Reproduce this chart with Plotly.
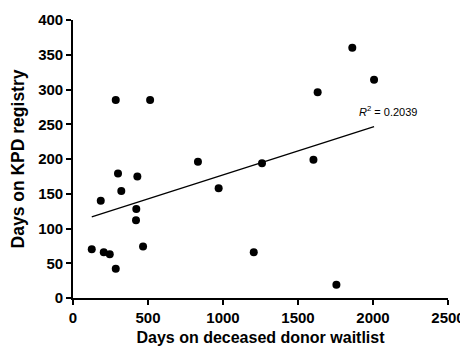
import numpy as np
import plotly.graph_objects as go

waitlist_days = [125, 185, 205, 245, 285, 285, 300, 322, 429, 422, 420, 467, 514,
                 833, 971, 1205, 1260, 1603, 1631, 1756, 1862, 2007]
kpd_days = [70, 140, 66, 63, 42, 285, 179, 154, 175, 128, 112, 74, 285,
            196, 158, 66, 194, 199, 296, 19, 360, 314]

x_ticks = [0, 500, 1000, 1500, 2000, 2500]
y_ticks = [0, 50, 100, 150, 200, 250, 300, 350, 400]
r2_text = "<i>R</i><sup>2</sup> = 0.2039"

slope, intercept = np.polyfit(waitlist_days, kpd_days, 1)
fit_x = [min(waitlist_days), max(waitlist_days)]
fit_y = [intercept + slope * v for v in fit_x]

FONT = "Liberation Sans, Arial, sans-serif"

fig = go.Figure()
fig.add_trace(go.Scatter(x=fit_x, y=fit_y, mode="lines",
                         line=dict(color="black", width=1.3), showlegend=False))
fig.add_trace(go.Scatter(x=waitlist_days, y=kpd_days, mode="markers",
                         marker=dict(color="black", size=8), showlegend=False))

fig.add_annotation(x=1896, y=269, xref="x", yref="y", text=r2_text,
                   showarrow=False, xanchor="left", yanchor="middle",
                   font=dict(family=FONT, size=11, color="#000000"))

axis_common = dict(showline=True, linecolor="black", linewidth=1.6, ticks="outside",
                   ticklen=5, tickwidth=1.6, tickcolor="black", showgrid=False,
                   zeroline=False, mirror=False, automargin=False,
                   ticklabeloverflow="allow",
                   tickfont=dict(family=FONT, size=15, color="#000000", weight="bold"))

fig.update_xaxes(range=[0, 2500], tickvals=x_ticks, **axis_common,
                 title=dict(text="Days on deceased donor waitlist",
                            font=dict(family=FONT, size=16, color="#000000", weight="bold"),
                            standoff=8))
fig.update_yaxes(range=[0, 400], tickvals=y_ticks, **axis_common,
                 title=dict(text="Days on KPD registry",
                            font=dict(family=FONT, size=17.5, color="#000000", weight="bold"),
                            standoff=10))

# page body has an 8px default margin; figure sized so the plot area lands where the reference has it
fig.update_layout(width=460, height=338, margin=dict(l=65, r=20, t=12, b=48),
                  plot_bgcolor="white", paper_bgcolor="white")

fig.write_html("out.html")
